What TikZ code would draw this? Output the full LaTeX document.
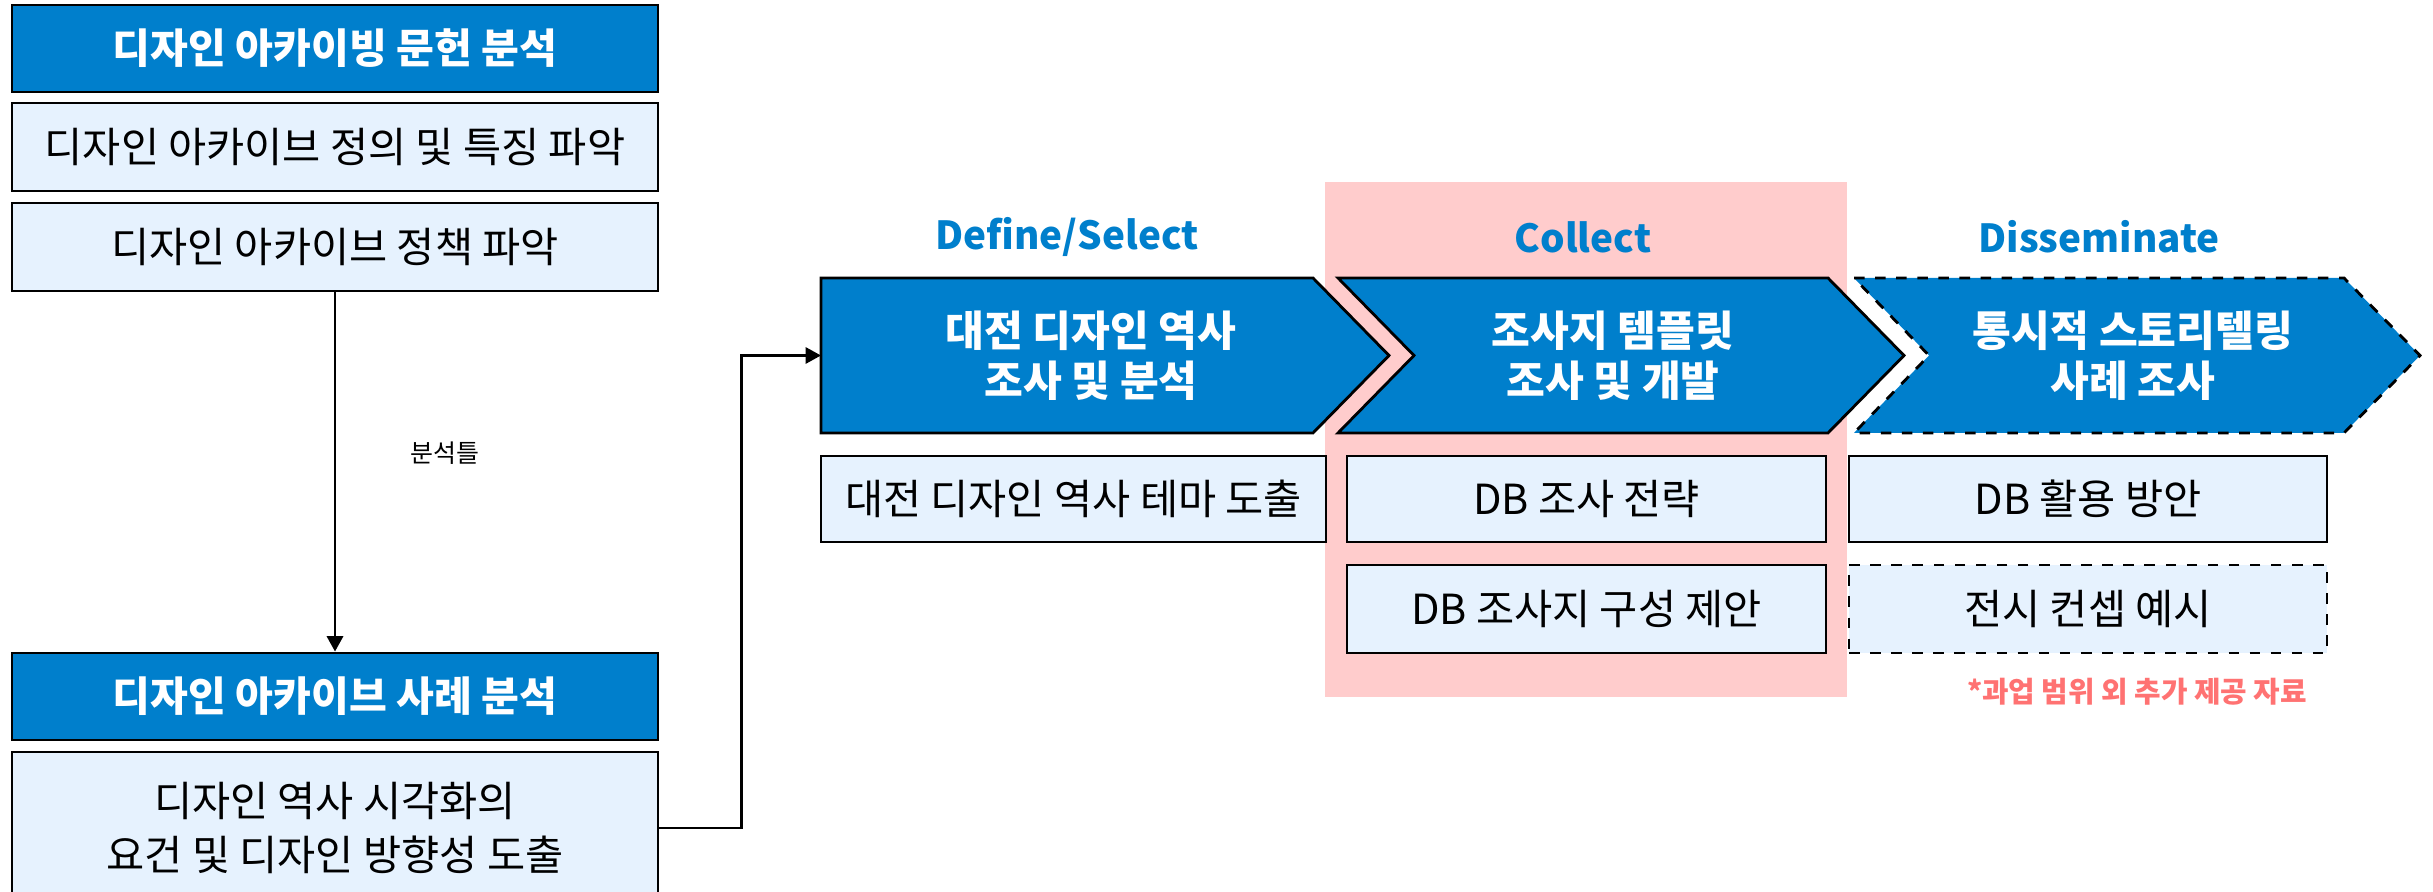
\documentclass[tikz,border=0pt]{standalone}
\usepackage{fontspec}
\setmainfont{Noto Sans CJK KR}
\usetikzlibrary{arrows.meta}
\usepackage{xcolor}
\definecolor{archblue}{HTML}{007FCC}
\definecolor{archlight}{HTML}{E6F2FE}
\definecolor{archpink}{HTML}{FFCCCC}
\definecolor{notered}{HTML}{FF7272}

\begin{document}
\begin{tikzpicture}[
  darkbox/.style={draw=black, line width=0.8pt, fill=archblue, text=white,
    font=\fontsize{11.7}{13}\selectfont\bfseries, inner sep=0pt,
    minimum width=6.46cm, minimum height=0.87cm},
  lightbox/.style={draw=black, line width=0.8pt, fill=archlight,
    font=\fontsize{11.8}{15.6}\selectfont, inner sep=0pt, align=center},
  chevron/.style={fill=archblue, draw=black, line width=0.8pt},
  chevtext/.style={text=white, align=center,
    font=\fontsize{12}{14.2}\selectfont\bfseries},
  phase/.style={text=archblue, font=\fontsize{11}{13}\selectfont\bfseries},
  flow/.style={line width=0.8pt, -{Triangle[width=4.6pt,length=4.4pt]}},
]
\useasboundingbox (0,0) rectangle (24.33,8.92);

% Collect phase backdrop
\fill[archpink] (13.25,1.95) rectangle (18.47,7.10);

% Left column: literature
\node[darkbox] (lit) at (3.35,8.435) {디자인 아카이빙 문헌 분석};
\node[lightbox, minimum width=6.46cm, minimum height=0.88cm] (def) at (3.35,7.45) {디자인 아카이브 정의 및 특징 파악};
\node[lightbox, minimum width=6.46cm, minimum height=0.88cm] (pol) at (3.35,6.45) {디자인 아카이브 정책 파악};

% Left column: cases
\node[darkbox] (case) at (3.35,1.955) {디자인 아카이브 사례 분석};
\node[lightbox, minimum width=6.46cm, minimum height=1.52cm] (req) at (3.35,0.64) {디자인 역사 시각화의\\요건 및 디자인 방향성 도출};

% Chevrons
% Define/Select
\path[chevron] (8.21,6.14) -- (13.13,6.14) -- (13.89,5.365) -- (13.13,4.59) -- (8.21,4.59) -- cycle;
\coordinate (c1) at (8.21,5.365);
\node[chevtext] (dsel) at (10.91,5.365) {대전 디자인 역사\\조사 및 분석};
% Collect
\path[chevron] (13.38,6.14) -- (18.28,6.14) -- (19.04,5.365) -- (18.28,4.59) -- (13.38,4.59) -- (14.14,5.365) -- cycle;
\node[chevtext] (coll) at (16.13,5.365) {조사지 템플릿\\조사 및 개발};
% Disseminate (dashed)
\path[chevron, dashed] (18.54,6.14) -- (23.44,6.14) -- (24.20,5.365) -- (23.44,4.59) -- (18.54,4.59) -- (19.29,5.365) -- cycle;
\node[chevtext] (diss) at (21.33,5.365) {통시적 스토리텔링\\사례 조사};

% Phase titles
\node[phase] (hdef) at (10.67,6.55) {Define/Select};
\node[phase] (hcol) at (15.83,6.55) {Collect};
\node[phase] (hdis) at (20.99,6.55) {Disseminate};

% Outputs under each phase
\node[lightbox, minimum width=5.05cm, minimum height=0.86cm] (theme) at (10.735,3.93) {대전 디자인 역사 테마 도출};
\node[lightbox, minimum width=4.79cm, minimum height=0.86cm] (strat) at (15.865,3.93) {DB 조사 전략};
\node[lightbox, minimum width=4.79cm, minimum height=0.88cm] (form) at (15.865,2.83) {DB 조사지 구성 제안};
\node[lightbox, minimum width=4.78cm, minimum height=0.86cm] (use) at (20.88,3.93) {DB 활용 방안};
\node[lightbox, minimum width=4.78cm, minimum height=0.88cm, dashed] (expo) at (20.88,2.83) {전시 컨셉 예시};
\node[text=notered, font=\fontsize{8.2}{9}\selectfont\bfseries] (extra) at (21.37,2.00) {*과업 범위 외 추가 제공 자료};

% Connectors
\draw[flow] (pol) -- (case);
\node[font=\fontsize{7.1}{8}\selectfont] (frame) at (4.45,4.39) {분석틀};
\draw[flow] (req.east) -- ++(0.82,0) |- (c1);

\end{tikzpicture}
\end{document}
